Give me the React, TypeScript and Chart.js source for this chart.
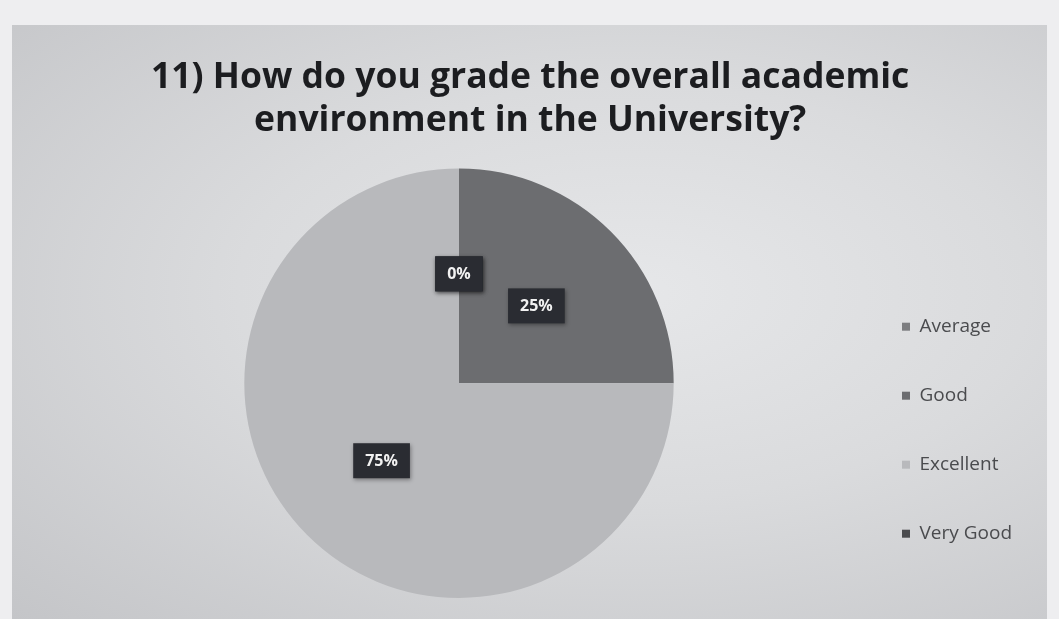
import React, { useEffect, useRef } from "react";
import { Chart, registerables } from "chart.js";

Chart.register(...registerables);

const titleLines = ["11) How do you grade the overall academic", "environment in the University?"];
const categories = ["Average", "Good", "Excellent", "Very Good"];
const values = [0, 25, 75, 0];
const valueLabels = ["0%", "25%", "75%", "0%"];
const colors = ["#7c7d80", "#6c6d70", "#b8b9bc", "#4a4b4e"];

const labelPlugin = {
  id: "boxLabels",
  afterDatasetsDraw(chart: any) {
    const ctx = chart.ctx;
    const meta = chart.getDatasetMeta(0);
    ctx.save();
    ctx.font = "bold 16px 'Open Sans'";
    ctx.textAlign = "center";
    ctx.textBaseline = "middle";
    meta.data.forEach((arc: any, i: number) => {
      const p = arc.getProps(["x", "y", "startAngle", "endAngle", "outerRadius"], true);
      const mid = (p.startAngle + p.endAngle) / 2;
      const r = p.outerRadius * 0.51;
      const x = p.x + Math.cos(mid) * r;
      const y = p.y + Math.sin(mid) * r;
      const text = valueLabels[i];
      const w = ctx.measureText(text).width + 24;
      const h = 35;
      ctx.shadowColor = "rgba(0,0,0,0.35)";
      ctx.shadowBlur = 4;
      ctx.shadowOffsetX = 1;
      ctx.shadowOffsetY = 2;
      ctx.fillStyle = "#2a2c32";
      ctx.fillRect(x - w / 2, y - h / 2, w, h);
      ctx.shadowColor = "transparent";
      ctx.fillStyle = "#f2f2f2";
      ctx.fillText(text, x, y + 1);
    });
    ctx.restore();
  },
};

const shiftTitle = (s: string) => s + "   ";

export default function App() {
  const ref = useRef<HTMLCanvasElement>(null);
  useEffect(() => {
    const chart = new Chart(ref.current as HTMLCanvasElement, {
      type: "pie",
      data: {
        labels: categories,
        datasets: [
          {
            data: values,
            backgroundColor: colors,
            borderWidth: 0,
          },
        ],
      },
      options: {
        responsive: false,
        animation: false,
        layout: { padding: { left: 66, right: 37, top: 0, bottom: 21 } },
        plugins: {
          tooltip: { enabled: false },
          title: {
            display: true,
            text: titleLines.map(shiftTitle),
            color: "#1c1d20",
            font: { family: "Open Sans", size: 35.5, weight: "bold", lineHeight: 1.22 },
            padding: { top: 56, bottom: 26 },
          },
          legend: {
            display: true,
            position: "right",
            title: { display: true, text: " ", padding: 124, font: { size: 12 } },
            labels: {
              boxWidth: 8,
              boxHeight: 8,
              padding: 50,
              color: "#4a4b4e",
              font: { family: "Open Sans", size: 19 },
            },
          },
        },
      },
      plugins: [labelPlugin],
    });
    return () => chart.destroy();
  }, []);
  return (
    <div style={{ position: "absolute", left: 0, top: 0, width: 1059, height: 619, background: "#eeeef0", overflow: "hidden" }}>
      <div
        style={{
          position: "absolute",
          left: 12,
          top: 25,
          width: 1035,
          height: 594,
          background: "radial-gradient(ellipse at 60% 45%, #e6e7e9 0%, #dadbdd 45%, #c4c5c8 100%)",
        }}
      />
      <canvas ref={ref} width={1059} height={619} style={{ position: "absolute", left: 0, top: 0 }} />
    </div>
  );
}
